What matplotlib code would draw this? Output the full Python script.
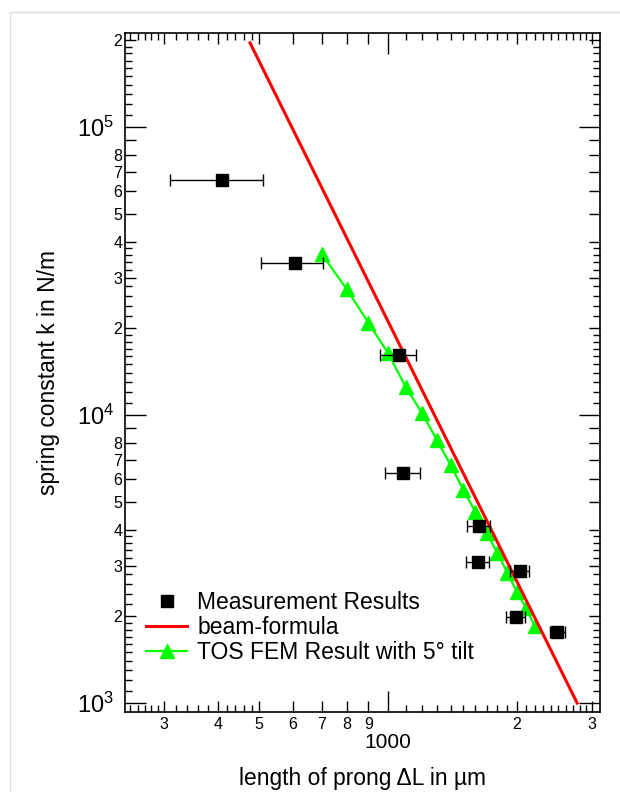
import numpy as np
import matplotlib.pyplot as plt
from matplotlib.ticker import FixedLocator, FixedFormatter, NullLocator
from matplotlib.patches import Rectangle

plt.rcParams['font.family'] = ['Liberation Sans', 'DejaVu Sans']
plt.rcParams['mathtext.fontset'] = 'custom'
plt.rcParams['mathtext.rm'] = 'Liberation Sans'
plt.rcParams['mathtext.it'] = 'Liberation Sans:italic'

# measured prongs (length in um, spring constant in N/m, +-dL)
meas_L = [410, 605, 1060, 1085, 1630, 1620, 2030, 1990, 2485]
meas_k = [65500, 33700, 16150, 6300, 4120, 3090, 2870, 1990, 1770]
meas_dL = [100, 100, 100, 100, 100, 100, 100, 100, 100]

# beam formula, end points of the line
beam_L = [476, 2764]
beam_k = [196000, 1000]

# FEM result with 5 deg tilt
fem_L = [700, 800, 900, 1000, 1100, 1200, 1300, 1400, 1500, 1600,
         1700, 1800, 1900, 2000, 2100, 2200]
fem_k = [36200, 27400, 20900, 16400, 12500, 10160, 8190, 6700, 5490, 4600,
         3890, 3320, 2830, 2430, 2140, 1850]

# ticks
x_major = [1000]
x_major_lbl = ['1000']
x_minor = [300, 400, 500, 600, 700, 800, 900, 2000, 3000]
x_minor_lbl = ['3', '4', '5', '6', '7', '8', '9', '2', '3']
x_sub = [250, 260, 270, 280, 290, 320, 340, 360, 380, 420, 440, 460, 480,
         1100, 1200, 1300, 1400, 1500, 1600, 1700, 1800, 1900,
         2100, 2200, 2300, 2400, 2500, 2600, 2700, 2800, 2900]
y_major = [1e3, 1e4, 1e5]
y_major_lbl = [r'$\mathregular{10^{3}}$', r'$\mathregular{10^{4}}$', r'$\mathregular{10^{5}}$']
y_minor = [2e3, 3e3, 4e3, 5e3, 6e3, 7e3, 8e3, 9e3,
           2e4, 3e4, 4e4, 5e4, 6e4, 7e4, 8e4, 9e4, 2e5]
y_minor_lbl = ['2', '3', '4', '5', '6', '7', '8', '',
               '2', '3', '4', '5', '6', '7', '8', '', '2']
y_sub = [1.1e3, 1.2e3, 1.3e3, 1.4e3, 1.5e3, 1.6e3, 1.7e3, 1.8e3, 1.9e3,
         2.2e3, 2.4e3, 2.6e3, 2.8e3, 3.2e3, 3.4e3, 3.6e3, 3.8e3,
         1.1e4, 1.2e4, 1.3e4, 1.4e4, 1.5e4, 1.6e4, 1.7e4, 1.8e4, 1.9e4,
         2.2e4, 2.4e4, 2.6e4, 2.8e4, 3.2e4, 3.4e4, 3.6e4, 3.8e4,
         1.1e5, 1.2e5, 1.3e5, 1.4e5, 1.5e5, 1.6e5, 1.7e5, 1.8e5, 1.9e5]

fig = plt.figure(figsize=(6.2, 7.92), dpi=100)
ax = fig.add_axes([0.2016, 0.101, 0.7661, 0.8573])

ax.plot(fem_L, fem_k, '-^', color='#00ff00', lw=1.6, ms=10, zorder=2,
        label='TOS FEM Result with 5° tilt')
ax.plot(beam_L, beam_k, '-', color='#ff0000', lw=2.2, zorder=3,
        label='beam-formula')
ax.errorbar(meas_L, meas_k, xerr=meas_dL, fmt='none', ecolor='black',
            elinewidth=1.0, capsize=4, capthick=1.0, zorder=4)
ax.plot(meas_L, meas_k, 's', color='black', ms=9, zorder=5,
        label='Measurement Results')

ax.set_xscale('log')
ax.set_yscale('log')
ax.set_xlim(243, 3125)
ax.set_ylim(931, 212000)

ax.xaxis.set_major_locator(FixedLocator(x_major))
ax.xaxis.set_major_formatter(FixedFormatter(x_major_lbl))
ax.xaxis.set_minor_locator(FixedLocator(x_minor))
ax.xaxis.set_minor_formatter(FixedFormatter(x_minor_lbl))
ax.yaxis.set_major_locator(FixedLocator(y_major))
ax.yaxis.set_major_formatter(FixedFormatter(y_major_lbl))
ax.yaxis.set_minor_locator(FixedLocator(y_minor))
ax.yaxis.set_minor_formatter(FixedFormatter(y_minor_lbl))

ax.tick_params(which='both', direction='in', top=True, right=True, width=1)
ax.tick_params(which='major', length=15)
ax.tick_params(which='minor', length=8)
ax.tick_params(axis='x', which='major', labelsize=15, pad=15)
ax.tick_params(axis='x', which='minor', labelsize=11.5, pad=3.5)
ax.tick_params(axis='y', which='major', labelsize=17, pad=8)
ax.tick_params(axis='y', which='minor', labelsize=11.5, pad=2)
for sp in ax.spines.values():
    sp.set_linewidth(1.2)

# small sub-ticks
for side in ('bottom', 'top'):
    sec = ax.secondary_xaxis(side)
    sec.set_xticks(x_sub, labels=[])
    sec.xaxis.set_minor_locator(NullLocator())
    sec.tick_params(direction='in', length=5, width=1)
    sec.spines[side].set_visible(False)
for side in ('left', 'right'):
    sec = ax.secondary_yaxis(side)
    sec.set_yticks(y_sub, labels=[])
    sec.yaxis.set_minor_locator(NullLocator())
    sec.tick_params(direction='in', length=5, width=1)
    sec.spines[side].set_visible(False)

ax.set_xlabel('length of prong ΔL in µm', fontsize=16.4)
ax.set_ylabel('spring constant k in N/m', fontsize=16.4)
ax.xaxis.set_label_coords(0.5, -0.081)
ax.yaxis.set_label_coords(-0.136, 0.5)

h, l = ax.get_legend_handles_labels()
ax.legend(h[::-1], l[::-1], loc='lower left', bbox_to_anchor=(0.044, 0.07),
          frameon=False, fontsize=16.5, handlelength=1.8, handletextpad=0.45,
          labelspacing=0.1, borderpad=0, borderaxespad=0)

fig.patches.append(Rectangle((9.5 / 620, -0.05), 1.0, 0.9848 + 0.05,
                             transform=fig.transFigure, fill=False,
                             edgecolor='#dddddd', lw=1))

fig.savefig('out.png', dpi=100)
